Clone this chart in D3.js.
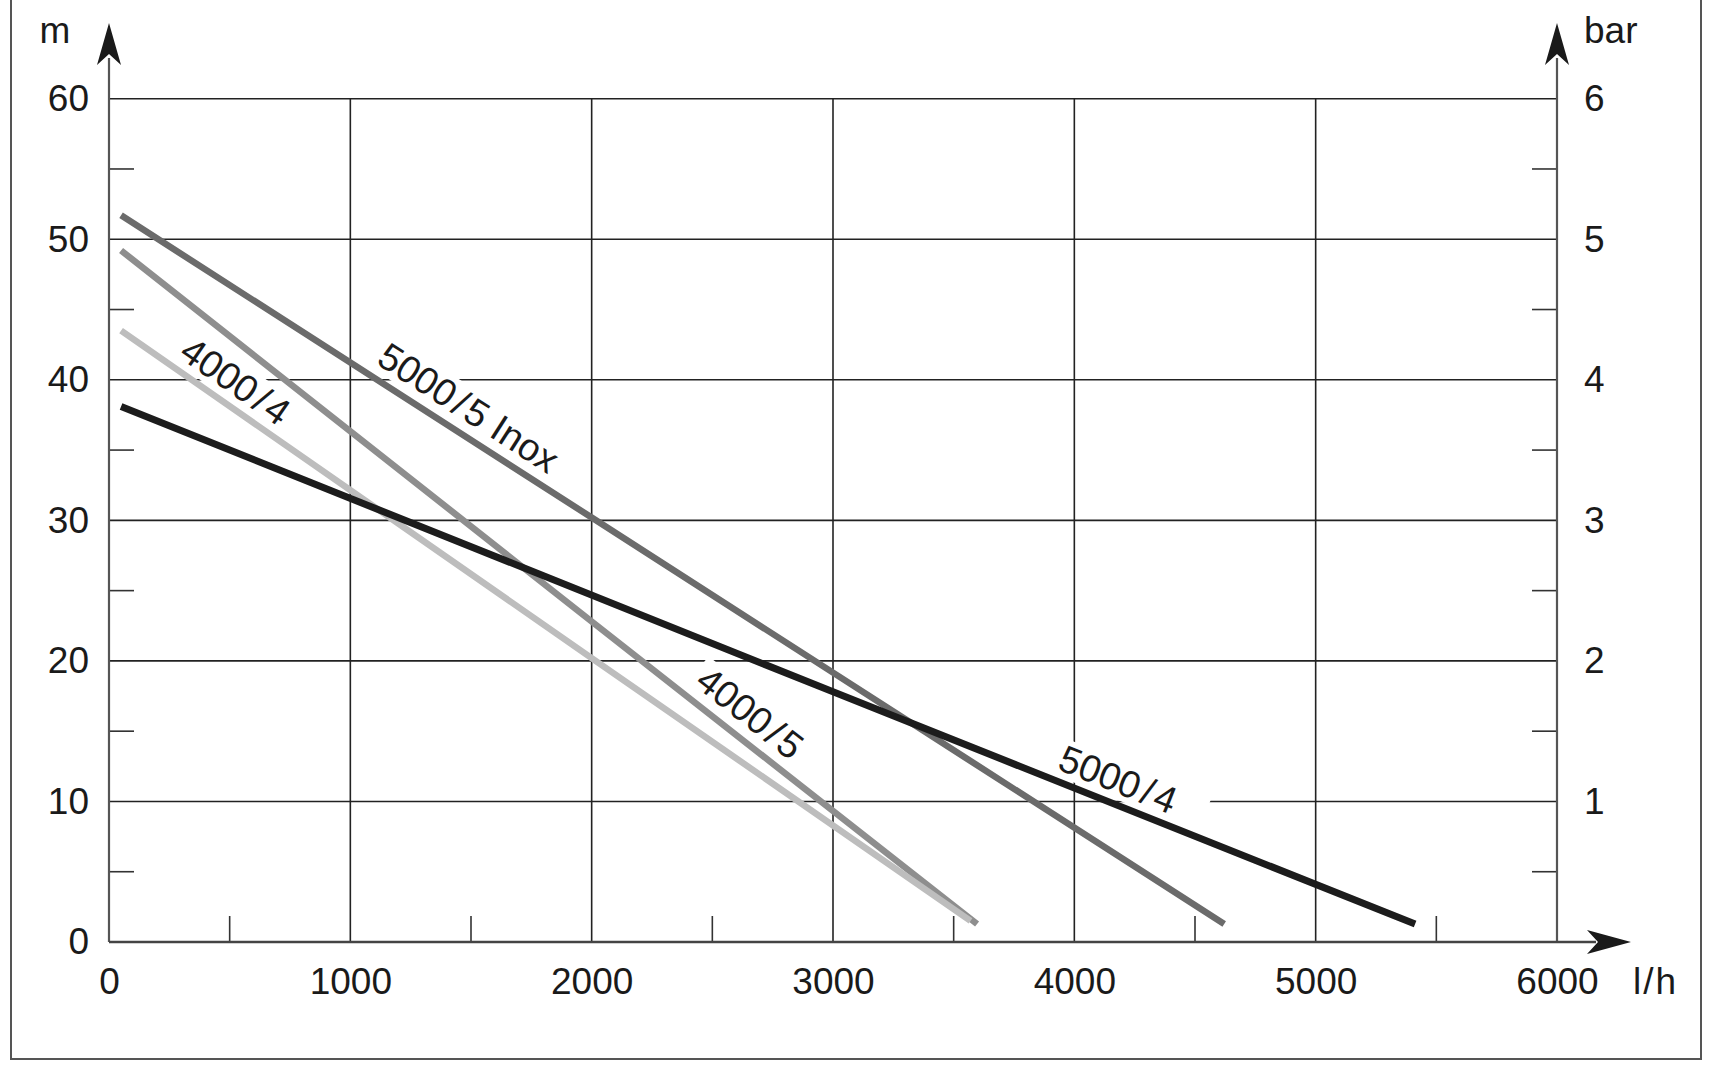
<!DOCTYPE html>
<html>
<head>
<meta charset="utf-8">
<script src="https://cdn.jsdelivr.net/npm/d3@7"></script>
<style>
  html, body { margin: 0; padding: 0; background: #fff; }
  svg { display: block; }
  text { font-family: "Liberation Sans", Arial, Helvetica, sans-serif; fill: #1a1a1a; }
</style>
</head>
<body>
<svg id="chart" width="1735" height="1074"></svg>
<script>
// ---------- data ----------
const seriesNames = ["5000/5 Inox", "4000/5", "4000/4", "5000/4"];
// flow rate (l/h) and head (m) for each series point
const flow_5000_5_inox = [50, 2000, 4621];
const head_5000_5_inox = [51.7, 30.2, 1.28];
const flow_4000_5 = [50, 2000, 3597];
const head_4000_5 = [49.2, 22.8, 1.28];
const flow_4000_4 = [50, 2000, 3570];
const head_4000_4 = [43.5, 20.2, 1.5];
const flow_5000_4 = [50, 3000, 5412];
const head_5000_4 = [38.1, 17.8, 1.28];
// label anchor (data coordinates) for each series name
const labelFlow = [1490, 2656, 524, 4181];
const labelHead = [38.0, 16.3, 39.9, 11.55];

const xTicks = [0, 1000, 2000, 3000, 4000, 5000, 6000];
const xMinorTicks = [500, 1500, 2500, 3500, 4500, 5500];
const yTicks = [0, 10, 20, 30, 40, 50, 60];
const yMinorTicks = [5, 15, 25, 35, 45, 55];
const barTicks = [1, 2, 3, 4, 5, 6];
const xUnit = "l/h", yUnit = "m", barUnit = "bar";

// ---------- styles ----------
const seriesColors = ["#6b6b6b", "#8e8e8e", "#bdbdbd", "#1c1c1c"];
const seriesWidths = [6.5, 6.5, 6.5, 7];
const FONT = 37;
const LABEL_FONT = 38;

const svg = d3.select("#chart");
const x = d3.scaleLinear().domain([0, 6000]).range([109, 1557]);
const y = d3.scaleLinear().domain([0, 60]).range([942, 98.7]);
const yBar = d3.scaleLinear().domain([0, 6]).range([942, 98.7]);

// frame
svg.append("rect").attr("x", 11).attr("y", -10).attr("width", 1690).attr("height", 1069)
  .attr("fill", "none").attr("stroke", "#555").attr("stroke-width", 2);

// grid
const grid = svg.append("g").attr("stroke", "#222").attr("stroke-width", 1.6);
grid.selectAll("line.h").data(yTicks.filter(d => d > 0)).join("line")
  .attr("x1", x(0)).attr("x2", x(6000)).attr("y1", d => y(d)).attr("y2", d => y(d));
grid.selectAll("line.v").data(xTicks.filter(d => d > 0 && d < 6000)).join("line")
  .attr("class", "v")
  .attr("y1", y(0)).attr("y2", y(60)).attr("x1", d => x(d)).attr("x2", d => x(d));

// minor ticks
const minor = svg.append("g").attr("stroke", "#333").attr("stroke-width", 1.6);
minor.selectAll("line.l").data(yMinorTicks).join("line").attr("class", "l")
  .attr("x1", x(0)).attr("x2", x(0) + 25).attr("y1", d => y(d)).attr("y2", d => y(d));
minor.selectAll("line.r").data(yMinorTicks).join("line").attr("class", "r")
  .attr("x1", x(6000) - 25).attr("x2", x(6000)).attr("y1", d => y(d)).attr("y2", d => y(d));
minor.selectAll("line.b").data(xMinorTicks).join("line").attr("class", "b")
  .attr("x1", d => x(d)).attr("x2", d => x(d)).attr("y1", y(0)).attr("y2", y(0) - 26);

// axis lines + arrows
const ax = svg.append("g");
ax.append("line").attr("x1", x(0)).attr("x2", x(0)).attr("y1", y(0)).attr("y2", 58)
  .attr("stroke", "#555").attr("stroke-width", 2.2);
ax.append("line").attr("x1", x(6000)).attr("x2", x(6000)).attr("y1", y(0)).attr("y2", 58)
  .attr("stroke", "#555").attr("stroke-width", 2.2);
ax.append("line").attr("x1", x(0)).attr("x2", 1596).attr("y1", y(0)).attr("y2", y(0))
  .attr("stroke", "#444").attr("stroke-width", 2.4);
function upArrow(cx) {
  return `M${cx},23 L${cx + 12},65 L${cx},54 L${cx - 12},65 Z`;
}
ax.append("path").attr("d", upArrow(x(0))).attr("fill", "#1a1a1a");
ax.append("path").attr("d", upArrow(x(6000))).attr("fill", "#1a1a1a");
ax.append("path").attr("d", `M1631,${y(0)} L1587,${y(0) - 12} L1598,${y(0)} L1587,${y(0) + 12} Z`)
  .attr("fill", "#1a1a1a");

// tick labels via d3 axes
function styleAxis(g) {
  g.select(".domain").remove();
  g.selectAll(".tick line").remove();
  g.attr("font-size", FONT).attr("font-family", null);
  g.selectAll("text").attr("fill", "#1a1a1a");
}
svg.append("g").attr("transform", `translate(${x(0)},0)`)
  .call(d3.axisLeft(y).tickValues(yTicks).tickSize(0).tickPadding(20).tickFormat(d3.format("d")))
  .call(styleAxis);
svg.append("g").attr("transform", `translate(${x(6000)},0)`)
  .call(d3.axisRight(yBar).tickValues(barTicks).tickSize(0).tickPadding(27).tickFormat(d3.format("d")))
  .call(styleAxis);
svg.append("g").attr("transform", `translate(0,${y(0)})`)
  .call(d3.axisBottom(x).tickValues(xTicks).tickSize(0).tickPadding(26).tickFormat(d3.format("d")))
  .call(styleAxis);

// unit labels
svg.append("text").attr("x", 55).attr("y", 43).attr("text-anchor", "middle")
  .attr("font-size", FONT).text(yUnit);
svg.append("text").attr("x", 1584).attr("y", 43).attr("font-size", FONT).text(barUnit);
svg.append("text").attr("x", 1633).attr("y", 994).attr("font-size", FONT)
  .attr("letter-spacing", 2).text(xUnit);

// series
const series = [
  { flow: flow_5000_5_inox, head: head_5000_5_inox },
  { flow: flow_4000_5, head: head_4000_5 },
  { flow: flow_4000_4, head: head_4000_4 },
  { flow: flow_5000_4, head: head_5000_4 }
].map((s, i) => ({ name: seriesNames[i], pts: s.flow.map((f, j) => [f, s.head[j]]),
  color: seriesColors[i], width: seriesWidths[i], lx: labelFlow[i], ly: labelHead[i] }));

const labelLayer = svg.append("g");
const lineLayer = svg.append("g");
const textLayer = svg.append("g");

series.forEach(s => {
  const p0 = s.pts[0], p1 = s.pts[s.pts.length - 1];
  const ang = Math.atan2(y(p1[1]) - y(p0[1]), x(p1[0]) - x(p0[0])) * 180 / Math.PI;
  const tg = textLayer.append("g")
    .attr("transform", `translate(${x(s.lx)},${y(s.ly)}) rotate(${ang})`);
  const t = tg.append("text").attr("text-anchor", "middle").attr("dominant-baseline", "central")
    .attr("font-size", LABEL_FONT);
  const parts = s.name.split("/");
  t.append("tspan").text(parts[0]);
  t.append("tspan").attr("dx", 4).text("/");
  t.append("tspan").attr("dx", 3).text(parts[1]);
  const bb = t.node().getBBox();
  const extraRight = s.name === "5000/4" ? 26 : 0;
  labelLayer.append("rect")
    .attr("transform", `translate(${x(s.lx)},${y(s.ly)}) rotate(${ang})`)
    .attr("x", bb.x - 6).attr("y", -19).attr("width", bb.width + 12 + extraRight).attr("height", 38)
    .attr("fill", "#fff");
});

const line = d3.line().x(d => x(d[0])).y(d => y(d[1]));
lineLayer.selectAll("path").data(series).join("path")
  .attr("d", d => line(d.pts)).attr("fill", "none")
  .attr("stroke", d => d.color).attr("stroke-width", d => d.width).attr("stroke-linecap", "butt");
</script>
</body>
</html>
